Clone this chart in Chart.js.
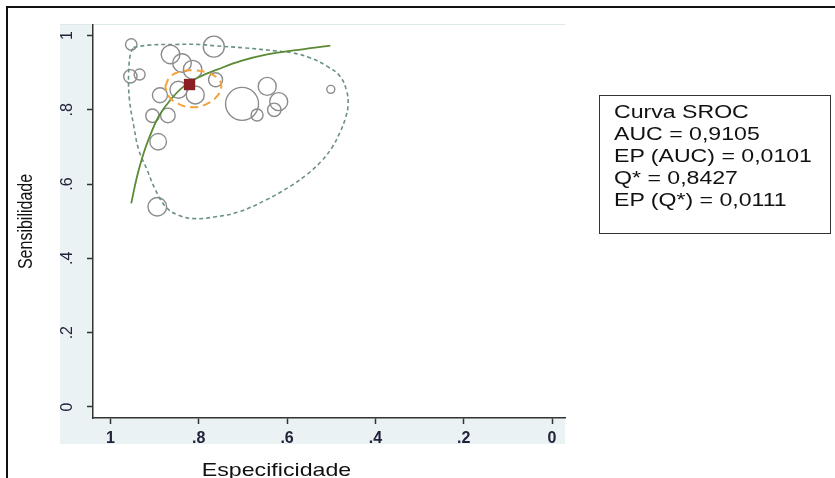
<!DOCTYPE html>
<html><head><meta charset="utf-8">
<script src="https://cdn.jsdelivr.net/npm/chart.js@4"></script>
<style>
html,body{margin:0;padding:0;background:#fff;overflow:hidden}
#wrap{position:relative;width:835px;height:478px;overflow:hidden}
#frame{position:absolute;left:6px;top:6px;width:840px;height:480px;border-top:2px solid #111;border-left:2px solid #111}
#panel{position:absolute;left:60px;top:24px;width:505px;height:419px;background:#eaf2f4;border-top:1px solid #dfe9eb}
#c{position:absolute;left:0;top:0}
#box{position:absolute;left:599px;top:95px;width:232px;height:139px;box-sizing:border-box;border:1.5px solid #333;background:#fff;padding:5px 0 0 14px}
#box div{font-family:'Liberation Sans',Arial,sans-serif;font-size:17.5px;line-height:22px;height:22px;color:#111;transform:scaleX(1.32);transform-origin:0 0;white-space:nowrap}
</style></head>
<body>
<div id="wrap">
  <div id="frame"></div>
  <div id="panel"></div>
  <canvas id="c" width="835" height="478"></canvas>
  <div id="box"></div>
</div>
<script>
// ---- data ----
const xTickValues = [1, 0.8, 0.6, 0.4, 0.2, 0];
const xTickLabels = ['1', '.8', '.6', '.4', '.2', '0'];
const yTickValues = [0, 0.2, 0.4, 0.6, 0.8, 1];
const yTickLabels = ['0', '.2', '.4', '.6', '.8', '1'];

// individual studies: specificity, sensitivity, weight (bubble radius)
const studySpec   = [0.953, 0.766, 0.864, 0.838, 0.814, 0.955, 0.934, 0.762, 0.888, 0.846, 0.808, 0.702, 0.645, 0.619, 0.629, 0.668, 0.501, 0.905, 0.870, 0.892, 0.894];
const studySens   = [0.976, 0.970, 0.949, 0.926, 0.908, 0.890, 0.895, 0.881, 0.839, 0.854, 0.840, 0.816, 0.863, 0.822, 0.800, 0.786, 0.855, 0.784, 0.785, 0.714, 0.539];
const studyWeight = [5.7, 10.5, 9.3, 9.3, 9.3, 6.7, 5.5, 7, 7.5, 8.5, 9, 16.5, 9, 9, 6.7, 6, 4, 6.7, 7.3, 8.3, 9.3];

// summary operating point
const summarySpec = [0.821];
const summarySens = [0.868];

// SROC curve
const srocSpec = [0.953, 0.940, 0.925, 0.910, 0.891, 0.864, 0.834, 0.796, 0.759, 0.706, 0.645, 0.585, 0.502];
const srocSens = [0.548, 0.620, 0.683, 0.732, 0.782, 0.827, 0.863, 0.890, 0.908, 0.931, 0.949, 0.960, 0.973];

// 95% confidence region
const confSpec = [0.876, 0.864, 0.838, 0.808, 0.778, 0.756, 0.749, 0.759, 0.785, 0.815, 0.846, 0.868, 0.876];
const confSens = [0.863, 0.890, 0.904, 0.906, 0.899, 0.883, 0.863, 0.836, 0.814, 0.807, 0.816, 0.836, 0.863];

// 95% prediction region
const predSpec = [0.948, 0.914, 0.853, 0.799, 0.762, 0.699, 0.622, 0.586, 0.548, 0.509, 0.480, 0.465, 0.462, 0.468, 0.480, 0.498, 0.523, 0.555, 0.593, 0.650, 0.710, 0.762, 0.808, 0.846, 0.875, 0.898, 0.917, 0.936, 0.947, 0.957, 0.959, 0.955, 0.948];
const predSens = [0.968, 0.974, 0.976, 0.976, 0.972, 0.967, 0.958, 0.953, 0.940, 0.917, 0.890, 0.850, 0.812, 0.777, 0.740, 0.699, 0.661, 0.626, 0.594, 0.556, 0.525, 0.512, 0.507, 0.516, 0.539, 0.584, 0.638, 0.692, 0.755, 0.827, 0.895, 0.949, 0.968];

const statsLines = ['Curva SROC', 'AUC = 0,9105', 'EP (AUC) = 0,0101', 'Q* = 0,8427', 'EP (Q*) = 0,0111'];
const xTitle = 'Especificidade';
const yTitle = 'Sensibilidade';

// ---- build ----
const pts = (xs, ys) => xs.map((x, i) => ({x: x, y: ys[i]}));
const lookup = (vals, labels) => v => {
  const i = vals.findIndex(t => Math.abs(t - v) < 1e-9);
  return i >= 0 ? labels[i] : '';
};

document.getElementById('box').innerHTML = statsLines.map(s => '<div>' + s + '</div>').join('');

const bgPlugin = {
  id: 'bg',
  beforeDraw(c) {
    const {ctx, chartArea: a} = c;
    ctx.save();
    ctx.fillStyle = '#ffffff';
    ctx.fillRect(a.left, a.top, a.right - a.left, a.bottom - a.top);
    ctx.restore();
  }
};

// stretch a scale title horizontally (reference text is horizontally widened)
function stretchTitle(s, sx, cxTarget, horizontal) {
  if (s._stretched) return;
  s._stretched = true;
  const orig = s.drawTitle.bind(s);
  s.drawTitle = function () {
    const ctx = this.ctx;
    const cx = horizontal ? (this.left + this.right) / 2 : cxTarget;
    const tx = horizontal ? 276.5 : cxTarget;
    ctx.save();
    ctx.translate(tx - sx * cx, 0);
    ctx.scale(sx, 1);
    orig();
    ctx.restore();
  };
}

const FONT = "'Liberation Sans', Arial, sans-serif";

new Chart(document.getElementById('c'), {
  type: 'scatter',
  data: {
    datasets: [
      {
        label: 'Summary',
        data: pts(summarySpec, summarySens),
        pointStyle: 'rect', pointRadius: 8, pointBackgroundColor: '#8b1f24', pointBorderColor: '#8b1f24', pointBorderWidth: 0,
        order: 0
      },
      {
        label: 'Confidence',
        data: pts(confSpec, confSens),
        showLine: true, pointRadius: 0, borderColor: '#f2a33a', borderWidth: 2, borderDash: [8, 5], tension: 0.45, fill: false,
        order: 1
      },
      {
        label: 'SROC',
        data: pts(srocSpec, srocSens),
        showLine: true, pointRadius: 0, borderColor: '#5a8a35', borderWidth: 1.8, tension: 0.4, fill: false,
        order: 2
      },
      {
        label: 'Prediction',
        data: pts(predSpec, predSens),
        showLine: true, pointRadius: 0, borderColor: '#6c9382', borderWidth: 1.6, borderDash: [4, 3], tension: 0.4, fill: false,
        order: 3
      },
      {
        type: 'bubble',
        label: 'Studies',
        data: studySpec.map((x, i) => ({x: x, y: studySens[i], r: studyWeight[i]})),
        backgroundColor: 'rgba(0,0,0,0)', borderColor: '#8c8c8c', borderWidth: 1.4,
        order: 4
      }
    ]
  },
  options: {
    responsive: false,
    animation: false,
    devicePixelRatio: 1,
    layout: {padding: {left: 8, right: 270, top: 25, bottom: 0}},
    plugins: {legend: {display: false}, tooltip: {enabled: false}},
    scales: {
      x: {
        type: 'linear', reverse: true, min: -0.0294, max: 1.0396,
        afterBuildTicks: s => { s.ticks = xTickValues.map(v => ({value: v})); },
        afterFit: s => { s.height = 60; stretchTitle(s, 1.22, 0, true); },
        ticks: {
          autoSkip: false, maxRotation: 0, minRotation: 0, padding: 5,
          color: '#22223a', font: {family: FONT, size: 16, weight: 'bold'},
          callback: lookup(xTickValues, xTickLabels)
        },
        grid: {drawOnChartArea: false, drawTicks: true, tickLength: 6, tickWidth: 1.5, color: '#333'},
        border: {display: true, color: '#333', width: 1.5},
        title: {display: true, text: xTitle, color: '#111', font: {family: FONT, size: 19, lineHeight: 1}, padding: {top: 0, bottom: -2}}
      },
      y: {
        type: 'linear', min: -0.0297, max: 1.0283,
        afterBuildTicks: s => { s.ticks = yTickValues.map(v => ({value: v})); },
        afterFit: s => { s.width = 85; stretchTitle(s, 1.25, 26.5, false); },
        ticks: {
          autoSkip: false, minRotation: 90, maxRotation: 90, crossAlign: 'center', padding: 13,
          color: '#22223a', font: {family: FONT, size: 16},
          callback: lookup(yTickValues, yTickLabels)
        },
        grid: {drawOnChartArea: false, drawTicks: true, tickLength: 6, tickWidth: 1.5, color: '#333'},
        border: {display: true, color: '#333', width: 1.5},
        title: {display: true, text: yTitle, color: '#111', font: {family: FONT, size: 16}, padding: {top: 9, bottom: 0}}
      }
    }
  },
  plugins: [bgPlugin]
});
</script>
</body></html>
